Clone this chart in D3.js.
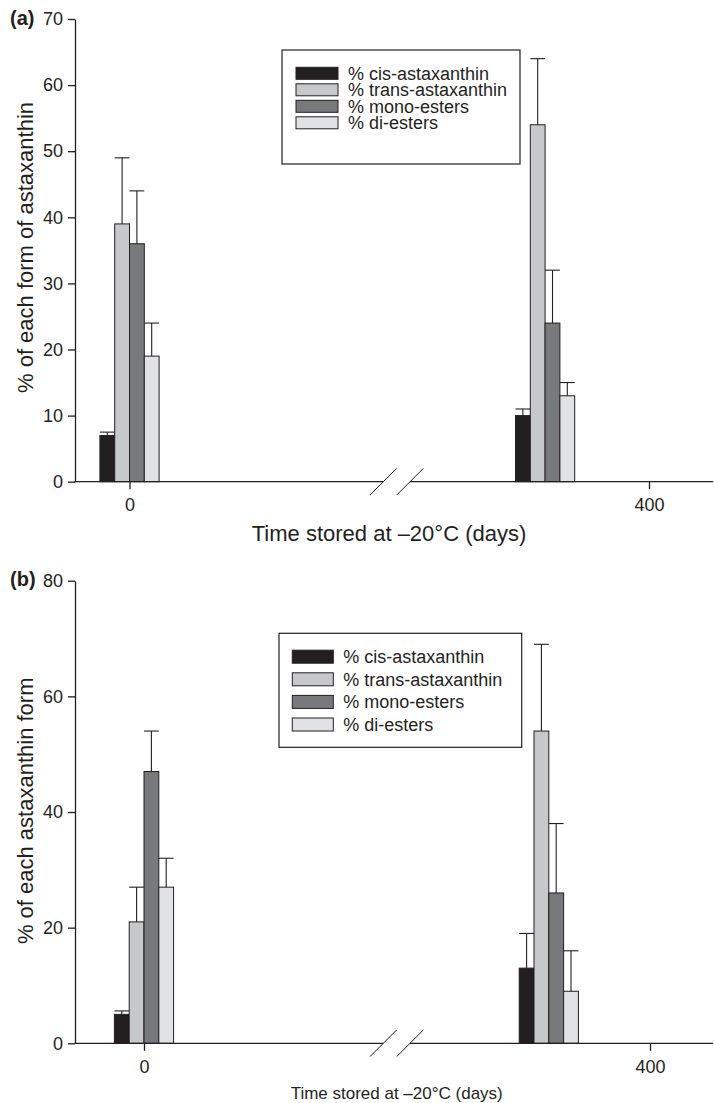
<!DOCTYPE html>
<html>
<head>
<meta charset="utf-8">
<script src="https://cdn.jsdelivr.net/npm/d3@7"></script>
<style>
  html, body { margin: 0; padding: 0; background: #fff; }
  svg { display: block; }
  text { font-family: "Liberation Sans", Arial, Helvetica, sans-serif; fill: #231f20; }
</style>
</head>
<body>
<svg id="fig" width="714" height="1103"></svg>
<script>
// Astaxanthin forms in stored samples, at day 0 and after storage at -20 °C
const seriesNames = ["% cis-astaxanthin", "% trans-astaxanthin", "% mono-esters", "% di-esters"];
const storageDays = [0, 320];
const xTickValues = [0, 400];

// Panel (a): rows = series, columns = storage time
const meansA = [[7, 10], [39, 54], [36, 24], [19, 13]];
const errorsA = [[0.5, 1], [10, 10], [8, 8], [5, 2]];
const yTicksA = [0, 10, 20, 30, 40, 50, 60, 70];

// Panel (b)
const meansB = [[5, 13], [21, 54], [47, 26], [27, 9]];
const errorsB = [[0.6, 6], [6, 15], [7, 12], [5, 7]];
const yTicksB = [0, 20, 40, 60, 80];

const fills = ["#231f20", "#c7c8ca", "#78797d", "#e1e2e4"];
const ink = "#231f20";

const svg = d3.select("#fig");

const panels = [
  {
    letter: "(a)", means: meansA, errors: errorsA, yTicks: yTicksA,
    yTitle: "% of each form of astaxanthin", xTitle: "Time stored at \u201320\u00b0C (days)",
    top: 19, bottom: 481.7, x0: 129.5, x400: 649,
    yTitleY: 247.5, xTitleX: 389, xTitleSize: 22,
    legend: { x: 282, y: 50, w: 238, h: 114, rowY0: 73.3, rowStep: 16.5, swX: 296, swW: 42, swH: 12, txtX: 348 }
  },
  {
    letter: "(b)", means: meansB, errors: errorsB, yTicks: yTicksB,
    yTitle: "% of each astaxanthin form", xTitle: "Time stored at \u201320\u00b0C (days)",
    top: 580.7, bottom: 1043.3, x0: 144, x400: 650,
    yTitleY: 810.8, xTitleX: 396.7, xTitleSize: 17,
    legend: { x: 279, y: 633.3, w: 242.7, h: 114, rowY0: 656.7, rowStep: 22.6, swX: 292.3, swW: 41, swH: 13, txtX: 343.3 }
  }
];

const axisLeftX = 75;
const axisRightX = 713;
const barW = 14.8;
const breakLeft = 383.3, breakRight = 410;

panels.forEach(p => {
  const g = svg.append("g");
  const yMax = p.yTicks[p.yTicks.length - 1];
  const y = d3.scaleLinear().domain([0, yMax]).range([p.bottom, p.top]);
  const x = d3.scaleLinear().domain(xTickValues).range([p.x0, p.x400]);

  // bars, one group per storage time
  const bars = [];
  storageDays.forEach((day, j) => {
    seriesNames.forEach((name, i) => {
      bars.push({ day, i, mean: p.means[i][j], err: p.errors[i][j] });
    });
  });
  const barX = d => x(d.day) + (d.i - 2) * barW;

  g.selectAll("rect.bar").data(bars).join("rect")
    .attr("class", "bar")
    .attr("x", barX)
    .attr("y", d => y(d.mean))
    .attr("width", barW)
    .attr("height", d => y(0) - y(d.mean))
    .attr("fill", d => fills[d.i])
    .attr("stroke", ink)
    .attr("stroke-width", 1);

  // upper error bars
  g.selectAll("line.err").data(bars).join("line")
    .attr("class", "err")
    .attr("x1", d => barX(d) + barW / 2).attr("x2", d => barX(d) + barW / 2)
    .attr("y1", d => y(d.mean)).attr("y2", d => y(d.mean + d.err))
    .attr("stroke", ink).attr("stroke-width", 1.1);
  g.selectAll("line.cap").data(bars).join("line")
    .attr("class", "cap")
    .attr("x1", d => barX(d)).attr("x2", d => barX(d) + barW)
    .attr("y1", d => y(d.mean + d.err)).attr("y2", d => y(d.mean + d.err))
    .attr("stroke", ink).attr("stroke-width", 1.1);

  // y axis
  const yAxis = g.append("g")
    .attr("transform", `translate(${axisLeftX},0)`)
    .call(d3.axisLeft(y).tickValues(p.yTicks).tickSize(7).tickSizeOuter(0).tickPadding(5));
  yAxis.selectAll("path.domain").attr("stroke", ink).attr("stroke-width", 1.3);
  yAxis.selectAll(".tick line").attr("stroke", ink).attr("stroke-width", 1.3);
  yAxis.selectAll(".tick text").attr("font-size", 18).attr("fill", ink)
    .style("font-family", '"Liberation Sans", Arial, sans-serif');

  // x axis ticks and labels; the baseline itself is drawn with a break
  const xAxis = g.append("g")
    .attr("transform", `translate(0,${p.bottom})`)
    .call(d3.axisBottom(x).tickValues(xTickValues).tickSize(7.5).tickSizeOuter(0).tickPadding(9));
  xAxis.select("path.domain").remove();
  xAxis.selectAll(".tick line").attr("stroke", ink).attr("stroke-width", 1.3);
  xAxis.selectAll(".tick text").attr("font-size", 18).attr("fill", ink)
    .style("font-family", '"Liberation Sans", Arial, sans-serif');

  g.append("line")
    .attr("x1", axisLeftX - 0.65).attr("x2", breakLeft)
    .attr("y1", p.bottom).attr("y2", p.bottom)
    .attr("stroke", ink).attr("stroke-width", 1.3);
  g.append("line")
    .attr("x1", breakRight).attr("x2", axisRightX)
    .attr("y1", p.bottom).attr("y2", p.bottom)
    .attr("stroke", ink).attr("stroke-width", 1.3);
  [breakLeft, breakRight].forEach(cx => {
    g.append("line")
      .attr("x1", cx - 13.3).attr("y1", p.bottom + 13.3)
      .attr("x2", cx + 13.3).attr("y2", p.bottom - 13.3)
      .attr("stroke", ink).attr("stroke-width", 1);
  });

  // titles
  g.append("text")
    .attr("transform", `translate(32.5,${p.yTitleY}) rotate(-90)`)
    .attr("text-anchor", "middle")
    .attr("font-size", 22)
    .text(p.yTitle);
  g.append("text")
    .attr("x", p.xTitleX).attr("y", p.bottom + (p.xTitleSize > 20 ? 59.3 : 56))
    .attr("text-anchor", "middle")
    .attr("font-size", p.xTitleSize)
    .text(p.xTitle);
  g.append("text")
    .attr("x", 10).attr("y", p.top + 5.5)
    .attr("font-size", 20).attr("font-weight", "bold")
    .text(p.letter);

  // legend
  const L = p.legend;
  const lg = g.append("g");
  lg.append("rect")
    .attr("x", L.x).attr("y", L.y).attr("width", L.w).attr("height", L.h)
    .attr("fill", "#fff").attr("stroke", ink).attr("stroke-width", 1.2);
  const rows = lg.selectAll("g.row").data(seriesNames).join("g")
    .attr("class", "row")
    .attr("transform", (d, i) => `translate(0,${L.rowY0 + i * L.rowStep})`);
  rows.append("rect")
    .attr("x", L.swX).attr("y", -L.swH / 2).attr("width", L.swW).attr("height", L.swH)
    .attr("fill", (d, i) => fills[i]).attr("stroke", ink).attr("stroke-width", 1);
  rows.append("text")
    .attr("x", L.txtX).attr("y", 0).attr("dy", "0.36em")
    .attr("font-size", 18)
    .text(d => d);
});
</script>
</body>
</html>
